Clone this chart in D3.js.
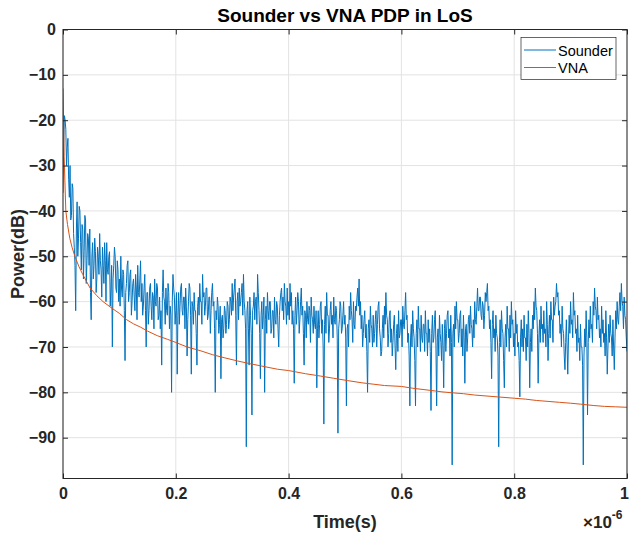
<!DOCTYPE html>
<html><head><meta charset="utf-8">
<script src="https://cdn.jsdelivr.net/npm/d3@7"></script>
<style>
body{margin:0;background:#fff}
svg{display:block}
text{font-family:"Liberation Sans",Arial,Helvetica,sans-serif}
</style>
</head><body>
<svg id="chart" width="629" height="535"></svg>
<script>
// ---------------- data ----------------
const chartTitle = "Sounder vs VNA PDP in LoS";
const xAxisLabel = "Time(s)";
const yAxisLabel = "Power(dB)";
const seriesNames = ["Sounder", "VNA"];
const xTicks = [0, 0.2e-6, 0.4e-6, 0.6e-6, 0.8e-6, 1e-6];
const xTickLabels = ["0", "0.2", "0.4", "0.6", "0.8", "1"];
const yTicks = [0, -10, -20, -30, -40, -50, -60, -70, -80, -90];
const xDomain = [0, 1e-6];
const yDomain = [-99, 0];

// Sounder PDP (dB), uniformly sampled over 0 .. 1 us (801 samples)
const sounderPower = [
 -36,-25,-19,-20,-22,-30,-26,-24,-33,-37,-30,-42,-41,-34,-35,-45,-48,-52,-62,-44,-38,-50,-46,-39,-40,-47,-53,-43,-44,-55,-49,-41,-42,-56,-51,-45,-46,-52,-44,-58,
 -64,-50,-47,-55,-52,-46,-49,-58,-55,-48,-50,-54,-45,-51,-53,-59,-48,-52,-56,-47,-51,-60,-47,-53,-54,-50,-49,-61,-57,-52,-70,-55,-52,-48,-50,-57,-58,-51,-53,-60,
 -55,-61,-50,-57,-59,-53,-54,-62,-73,-58,-56,-52,-51,-60,-58,-54,-53,-63,-60,-56,-55,-59,-62,-54,-57,-64,-52,-58,-59,-55,-51,-60,-56,-63,-61,-57,-54,-62,-70,-58,
 -58,-65,-62,-57,-56,-61,-64,-58,-59,-66,-55,-60,-61,-56,-57,-64,-63,-59,-66,-62,-74,-58,-53,-59,-60,-65,-57,-62,-63,-56,-58,-66,-61,-63,-80,-60,-54,-57,-59,-65,
 -62,-58,-76,-63,-58,-65,-61,-57,-56,-62,-63,-59,-59,-66,-57,-61,-72,-64,-60,-56,-57,-63,-76,-60,-61,-65,-58,-62,-62,-67,-74,-61,-59,-63,-56,-60,-60,-65,-54,-59,
 -58,-63,-61,-57,-57,-64,-63,-59,-59,-67,-62,-58,-56,-61,-60,-66,-80,-62,-64,-59,-61,-67,-65,-61,-77,-64,-63,-68,-66,-61,-62,-67,-65,-60,-61,-66,-64,-59,-60,-63,
 -56,-62,-59,-57,-55,-63,-74,-60,-58,-64,-57,-61,-60,-58,-56,-63,-54,-60,-62,-66,-92,-62,-60,-66,-74,-59,-63,-67,-85,-62,-61,-58,-64,-60,-59,-65,-54,-58,-62,-67,
 -77,-63,-60,-66,-63,-59,-80,-64,-61,-67,-58,-62,-64,-60,-60,-67,-66,-62,-62,-68,-59,-64,-65,-60,-61,-66,-70,-63,-60,-58,-57,-62,-59,-64,-56,-60,-61,-65,-57,-63,
 -60,-64,-56,-61,-58,-65,-62,-66,-78,-63,-59,-65,-62,-58,-60,-67,-64,-60,-57,-63,-61,-67,-74,-62,-63,-68,-60,-64,-65,-61,-62,-69,-59,-63,-64,-67,-61,-65,-66,-62,
 -79,-66,-62,-68,-65,-61,-60,-67,-64,-70,-87,-65,-61,-67,-58,-63,-63,-69,-66,-62,-60,-65,-63,-68,-59,-64,-65,-61,-62,-68,-89,-66,-64,-60,-61,-67,-66,-63,-60,-65,
 -63,-68,-83,-66,-65,-70,-61,-64,-58,-62,-64,-69,-60,-65,-66,-61,-62,-59,-57,-61,-55,-63,-60,-66,-63,-70,-67,-64,-62,-68,-65,-71,-80,-66,-64,-69,-61,-65,-66,-70,
 -63,-69,-67,-64,-62,-70,-65,-61,-60,-66,-68,-72,-71,-66,-63,-68,-61,-65,-58,-63,-64,-70,-67,-63,-62,-69,-66,-72,-69,-65,-63,-70,-75,-67,-65,-71,-62,-68,-67,-64,
 -64,-70,-61,-65,-66,-62,-58,-64,-63,-69,-67,-72,-83,-68,-65,-70,-62,-66,-68,-73,-83,-67,-64,-70,-61,-66,-66,-71,-63,-68,-69,-65,-65,-71,-62,-67,-67,-72,-64,-69,
 -66,-71,-84,-67,-63,-69,-68,-64,-62,-70,-83,-68,-66,-72,-63,-67,-69,-73,-65,-70,-79,-66,-64,-71,-67,-63,-62,-68,-66,-72,-63,-69,-96,-67,-65,-70,-61,-66,-60,-64,
 -64,-69,-67,-63,-62,-70,-66,-72,-63,-68,-78,-66,-65,-71,-68,-64,-63,-67,-61,-65,-66,-70,-64,-68,-60,-64,-65,-61,-57,-62,-62,-59,-59,-63,-64,-60,-61,-66,-63,-58,
 -60,-58,-56,-62,-61,-66,-64,-69,-77,-65,-62,-68,-66,-71,-63,-67,-68,-72,-92,-69,-64,-70,-62,-66,-67,-73,-79,-68,-65,-70,-61,-66,-66,-71,-63,-68,-60,-65,-64,-70,
 -67,-72,-62,-67,-65,-70,-69,-73,-81,-68,-64,-70,-66,-71,-63,-68,-68,-73,-65,-70,-62,-67,-79,-69,-66,-71,-63,-66,-60,-64,-57,-61,-62,-67,-78,-68,-64,-69,-61,-66,
 -65,-69,-62,-67,-66,-70,-60,-65,-73,-67,-63,-68,-60,-64,-64,-69,-59,-63,-61,-60,-56,-59,-58,-63,-62,-67,-65,-70,-61,-66,-67,-72,-75,-69,-64,-70,-76,-68,-63,-67,
 -60,-65,-64,-68,-58,-63,-62,-67,-66,-71,-63,-69,-68,-73,-65,-70,-70,-74,-96,-72,-66,-70,-62,-68,-85,-69,-64,-68,-61,-66,-65,-69,-60,-63,-57,-61,-62,-66,-59,-64,
 -63,-68,-66,-70,-61,-67,-64,-69,-67,-72,-62,-68,-76,-70,-65,-69,-63,-67,-68,-72,-64,-70,-75,-68,-62,-66,-60,-64,-65,-61,-58,-62,-56,-60,-61,-66,-59,-63,-64,-68,-71
];

// VNA PDP: time (us) and power (dB)
const vnaTimeUs = [0,0.002,0.005,0.008,0.012,0.016,0.021,0.028,0.035,0.048,0.06,0.071,0.085,0.1,0.113,0.125,0.137,0.15,0.167,0.185,0.2,0.22,0.243,0.265,0.287,0.31,0.332,0.36,0.38,0.4,0.43,0.456,0.48,0.504,0.53,0.55,0.57,0.6,0.62,0.64,0.66,0.672,0.69,0.71,0.73,0.75,0.77,0.8,0.82,0.84,0.86,0.88,0.9,0.917,0.94,0.96,0.98,1.0];
const vnaPower = [-13,-28,-40,-43,-46,-48,-50,-52.2,-54,-57,-58.7,-60,-61.3,-62.6,-64,-64.9,-65.6,-66.5,-67.5,-68.3,-69,-70,-70.8,-71.7,-72.4,-73.1,-73.7,-74.4,-74.9,-75.2,-75.9,-76.4,-76.9,-77.4,-77.9,-78.2,-78.5,-78.7,-79.1,-79.4,-79.7,-79.9,-80.1,-80.3,-80.6,-80.8,-81.0,-81.3,-81.5,-81.8,-82.0,-82.2,-82.4,-82.6,-82.9,-83.1,-83.2,-83.3];

// ---------------- layout ----------------
const W = 629, H = 535;
const mL = 63, mR = 627, mT = 29.5, mB = 478.5;
const colors = ["#0072BD", "#D95319"];
const axisColor = "#262626";

const svg = d3.select("#chart");
svg.append("rect").attr("width", W).attr("height", H).attr("fill", "#fff");

const x = d3.scaleLinear().domain(xDomain).range([mL, mR]);
const y = d3.scaleLinear().domain(yDomain).range([mB, mT]);

// grid
const grid = svg.append("g");
grid.selectAll("line.gx").data(xTicks).join("line")
  .attr("x1", d => x(d)).attr("x2", d => x(d))
  .attr("y1", mT).attr("y2", mB)
  .attr("stroke", "#e3e3e3").attr("stroke-width", 1);
grid.selectAll("line.gy").data(yTicks).join("line")
  .attr("y1", d => y(d)).attr("y2", d => y(d))
  .attr("x1", mL).attr("x2", mR)
  .attr("stroke", "#e3e3e3").attr("stroke-width", 1);

// clip
svg.append("clipPath").attr("id", "clip").append("rect")
  .attr("x", mL).attr("y", mT).attr("width", mR - mL).attr("height", mB - mT);

const plot = svg.append("g").attr("clip-path", "url(#clip)");
const nS = sounderPower.length;
const sounderPts = sounderPower.map((p, i) => [xDomain[1] * i / (nS - 1), p]);
const vnaPts = vnaTimeUs.map((t, i) => [t * 1e-6, vnaPower[i]]);
const line = d3.line().x(d => x(d[0])).y(d => y(d[1]));

plot.append("path").datum(sounderPts).attr("d", line)
  .attr("fill", "none").attr("stroke", colors[0]).attr("stroke-width", 1).attr("stroke-linejoin", "round");
plot.append("path").datum(vnaPts).attr("d", line)
  .attr("fill", "none").attr("stroke", colors[1]).attr("stroke-width", 1);

// axes
function styleAxis(g) {
  g.select(".domain").remove();
  g.selectAll(".tick line").attr("stroke", axisColor);
  g.selectAll(".tick text").attr("fill", axisColor)
    .style("font-size", "16px").style("font-weight", "bold")
    .style("font-family", '"Liberation Sans",Arial,sans-serif');
}
const xAxisG = svg.append("g").attr("transform", `translate(0,${mB})`)
  .call(d3.axisBottom(x).tickValues(xTicks).tickFormat((d, i) => xTickLabels[i]).tickSize(-5).tickPadding(9))
  .call(styleAxis);
// keep the last label inside the canvas
xAxisG.selectAll(".tick text").filter((d, i) => i === xTicks.length - 1).attr("dx", -3);
svg.append("g").attr("transform", `translate(${mL},0)`)
  .call(d3.axisLeft(y).tickValues(yTicks).tickSize(-5).tickPadding(7))
  .call(styleAxis);
svg.append("g").attr("transform", `translate(0,${mT})`)
  .call(d3.axisTop(x).tickValues(xTicks).tickFormat("").tickSize(-5))
  .call(styleAxis);
svg.append("g").attr("transform", `translate(${mR},0)`)
  .call(d3.axisRight(y).tickValues(yTicks).tickFormat("").tickSize(-5))
  .call(styleAxis);

// box
svg.append("rect").attr("x", mL).attr("y", mT)
  .attr("width", mR - mL).attr("height", mB - mT)
  .attr("fill", "none").attr("stroke", axisColor).attr("stroke-width", 1);

// title & labels
svg.append("text").attr("x", (mL + mR) / 2).attr("y", 22)
  .attr("text-anchor", "middle").style("font-size", "19px").style("font-weight", "bold")
  .attr("fill", "#000").text(chartTitle);
svg.append("text").attr("x", (mL + mR) / 2).attr("y", 528)
  .attr("text-anchor", "middle").style("font-size", "18px").style("font-weight", "bold")
  .attr("fill", axisColor).text(xAxisLabel);
svg.append("text").attr("transform", `translate(24,${(mT + mB) / 2}) rotate(-90)`)
  .attr("text-anchor", "middle").style("font-size", "18px").style("font-weight", "bold")
  .attr("fill", axisColor).text(yAxisLabel);

// exponent
const ex = svg.append("text").attr("x", 583).attr("y", 528)
  .style("font-weight", "bold").attr("fill", axisColor);
ex.append("tspan").style("font-size", "17px").text("\u00d710");
ex.append("tspan").attr("dy", -9).style("font-size", "12px").text("-6");

// legend
const lg = svg.append("g");
lg.append("rect").attr("x", 521).attr("y", 37.5).attr("width", 95).attr("height", 42)
  .attr("fill", "#fff").attr("stroke", axisColor).attr("stroke-width", 0.7);
const legY = [50, 67.5];
seriesNames.forEach((name, i) => {
  lg.append("line").attr("x1", 524).attr("x2", 556).attr("y1", legY[i]).attr("y2", legY[i])
    .attr("stroke", colors[i]).attr("stroke-width", 1);
  lg.append("text").attr("x", 558).attr("y", legY[i] + 5.5)
    .style("font-size", "14.5px").attr("fill", "#000").text(name);
});
</script>
</body></html>
